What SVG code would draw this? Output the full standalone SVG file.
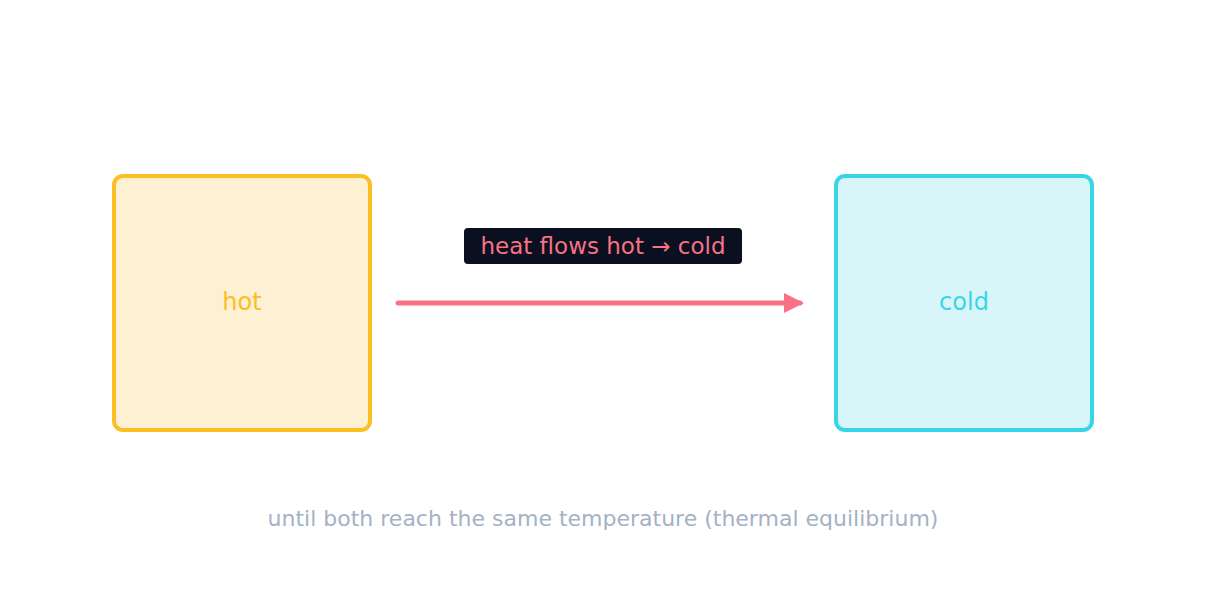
<svg xmlns="http://www.w3.org/2000/svg" width="1206" height="606" viewBox="0 0 1206 606">
<style>
text{font-family:"DejaVu Sans",sans-serif;text-anchor:middle}
.n{font-size:24px}
</style>
<defs><marker id="ah" viewBox="0 0 10 10" refX="8" refY="5" markerWidth="4" markerHeight="4" orient="auto"><path d="M0,0 L10,5 L0,10 Z" fill="#f87185"/></marker></defs>
<rect width="1206" height="606" fill="#fff"/>
<g id="hot"><rect x="114" y="176" width="256" height="254" rx="9" fill="#fef0d2" stroke="#fbbf24" stroke-width="4"/><text class="n" x="242" y="310" fill="#fbbf24">hot</text></g>
<g id="cold"><rect x="836" y="176" width="256" height="254" rx="9" fill="#d8f6f9" stroke="#38d5e8" stroke-width="4"/><text class="n" x="964" y="310" fill="#38d5e8">cold</text></g>
<g id="connectors"><line x1="398" y1="303" x2="800" y2="303" stroke="#f87185" stroke-width="5" stroke-linecap="round" marker-end="url(#ah)"/>
<rect x="464" y="228" width="278" height="36" rx="4" fill="#0b1020"/><text x="603" y="254" font-size="23" fill="#f87185">heat flows hot → cold</text></g>
<text x="603" y="526" font-size="22" fill="#a3b2c5">until both reach the same temperature (thermal equilibrium)</text>
</svg>
